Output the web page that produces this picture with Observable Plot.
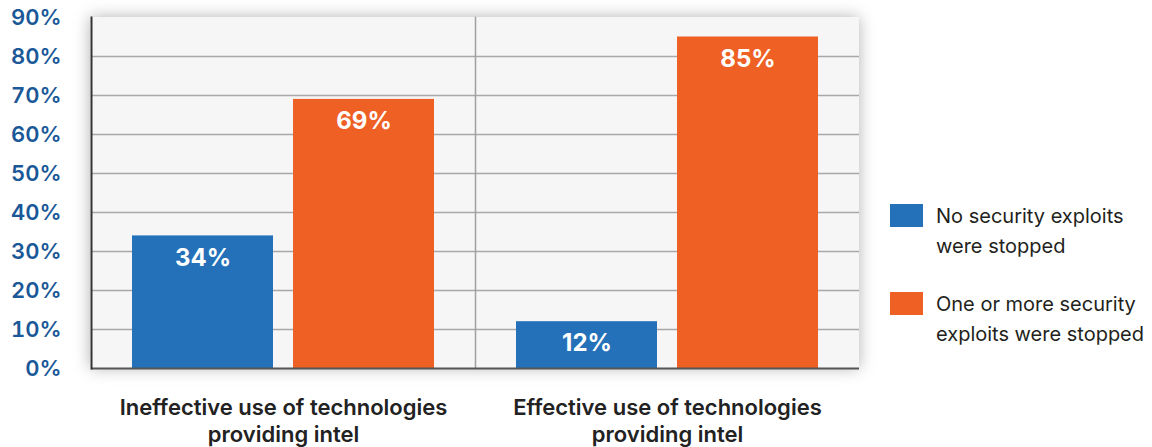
<!DOCTYPE html>
<html><head><meta charset="utf-8">
<script src="https://cdn.jsdelivr.net/npm/d3@7"></script>
<script src="https://cdn.jsdelivr.net/npm/@observablehq/plot@0.6"></script>
<style>
body{margin:0;background:#fff;font-family:Inter,"Liberation Sans",sans-serif;}
#wrap{position:relative;width:1152px;height:447px;overflow:hidden;}
#legend{position:absolute;left:890px;top:201px;}
.item{display:flex;align-items:flex-start;margin-bottom:28px;}
.sw{width:33px;height:23px;margin-top:3px;margin-right:13px;flex:none;}
.lab{font-size:20px;line-height:30px;color:#231f20;width:215px;}
</style></head><body><div id="wrap"><div id="chart"></div><div id="legend"></div></div>
<script>
const groups = ["Ineffective use of technologies\nproviding intel", "Effective use of technologies\nproviding intel"];
const series = ["No security exploits were stopped", "One or more security exploits were stopped"];
const noneStopped = [34, 12];
const someStopped = [69, 85];
const yTicks = [0, 10, 20, 30, 40, 50, 60, 70, 80, 90];
const colors = ["#2571b9", "#ee6024"];

const data = groups.flatMap((g, i) => [
  {group: g, series: series[0], value: noneStopped[i]},
  {group: g, series: series[1], value: someStopped[i]}
]);

const W = 880, H = 447, mL = 90, mR = 21, mT = 17, mB = 79;
const font = "Inter, 'Liberation Sans', sans-serif";

const plot = Plot.plot({
  width: W, height: H, marginLeft: mL, marginRight: mR, marginTop: mT, marginBottom: mB,
  style: {fontFamily: font, background: "transparent", overflow: "visible"},
  fx: {domain: groups, padding: 0, label: null, axis: null},
  x: {domain: series, paddingInner: 0.123, paddingOuter: 0.25, axis: null},
  y: {domain: [0, 90], label: null, axis: null},
  color: {domain: series, range: colors},
  marks: [
    Plot.gridY(yTicks.filter(t => t > 0 && t < 90), {stroke: "#a8a8a8", strokeOpacity: 1, strokeWidth: 1.5}),
    Plot.frame({anchor: "left", stroke: "#a0a0a0", strokeWidth: 1.5, fx: () => groups[1]}),
    Plot.barY(data, {fx: "group", x: "series", y: "value", fill: "series"}),
    Plot.text(data, {fx: "group", x: "series", y: "value", text: d => d.value + "%", dy: 22, fill: "white", fontSize: 24, fontWeight: "bold"}),
    Plot.ruleY([0], {stroke: "#555", strokeWidth: 2}),
    Plot.frame({anchor: "left", stroke: "#333", strokeWidth: 2, fx: () => groups[0]}),
    Plot.axisY(yTicks, {tickSize: 0, tickPadding: 30, tickFormat: d => d + "%", fill: "#1a5898", fontSize: 22, fontWeight: 600}),
    Plot.axisFx({anchor: "bottom", tickSize: 0, tickPadding: 28, lineAnchor: "top", lineHeight: 1.2, fontSize: 22, fontWeight: 600, fill: "#222", label: null})
  ]
});

const svg = d3.select(plot);
svg.insert("rect", ":first-child")
  .attr("x", mL).attr("y", mT)
  .attr("width", W - mL - mR).attr("height", H - mT - mB)
  .attr("fill", "#f6f6f6")
  .style("filter", "drop-shadow(0px 0px 8px rgba(0,0,0,0.3))");

document.getElementById("chart").appendChild(plot);

const legend = d3.select("#legend");
series.forEach((s, i) => {
  const item = legend.append("div").attr("class", "item");
  item.append("div").attr("class", "sw").style("background", colors[i]);
  item.append("div").attr("class", "lab").text(s);
});
</script>
</body></html>
